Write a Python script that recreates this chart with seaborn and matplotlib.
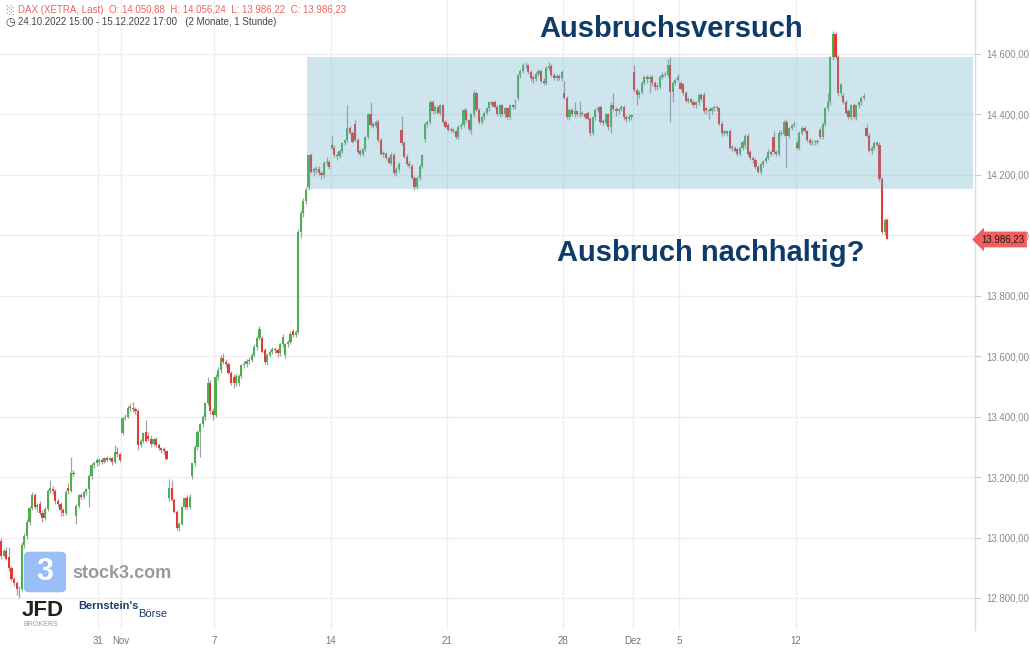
import matplotlib
matplotlib.use("Agg")
import matplotlib.pyplot as plt
from matplotlib.patches import Rectangle, FancyBboxPatch
import numpy as np
import pandas as pd
import seaborn as sns

# ---------------- data (DAX XETRA, 1h candles) ----------------
trading_days = pd.bdate_range("2022-10-24", "2022-12-15")
first_day_hours = [15, 16, 17]
day_hours = [9, 10, 11, 12, 13, 14, 15, 16, 17]

opens = [
    13020, 12990, 12940,
    12955, 12935, 12900, 12862, 12848, 12830, 12828, 12975, 13005,
    13052, 13098, 13140, 13100, 13112, 13082, 13065, 13095, 13155,
    13162, 13155, 13120, 13110, 13090, 13080, 13165, 13155, 13215,
    13070, 13105, 13140, 13135, 13150, 13160, 13205, 13240, 13245,
    13250, 13255, 13250, 13262, 13258, 13262, 13250, 13282, 13275,
    13345, 13395, 13400, 13430, 13428, 13425, 13420, 13305, 13320,
    13350, 13335, 13325, 13310, 13325, 13305, 13295, 13292, 13285,
    13130, 13165, 13125, 13085, 13030, 13045, 13100, 13130, 13100,
    13205, 13245, 13300, 13350, 13375, 13400, 13445, 13510, 13420,
    13405, 13530, 13555, 13595, 13580, 13575, 13545, 13530, 13510,
    13510, 13535, 13570, 13575, 13585, 13588, 13605, 13630, 13660,
    13660, 13620, 13580, 13605, 13615, 13625, 13620, 13610, 13640,
    13605, 13640, 13648, 13682, 13670, 13680, 14010, 14075, 14115,
    14160, 14265, 14210, 14218, 14218, 14205, 14200, 14240, 14242,
    14300, 14290, 14265, 14262, 14280, 14305, 14315, 14355, 14340,
    14370, 14315, 14278, 14270, 14285, 14325, 14400, 14368, 14362,
    14375, 14315, 14272, 14268, 14255, 14240, 14265, 14205, 14218,
    14350, 14305, 14260, 14235, 14228, 14190, 14160, 14190, 14230,
    14320, 14370, 14375, 14440, 14410, 14425, 14405, 14430, 14375,
    14365, 14352, 14348, 14345, 14325, 14360, 14365, 14415, 14380,
    14350, 14400, 14470, 14415, 14375, 14390, 14405, 14420, 14440,
    14440, 14425, 14400, 14430, 14400, 14420, 14390, 14430, 14425,
    14455, 14530, 14545, 14565, 14562, 14540, 14525, 14518, 14535,
    14545, 14512, 14505, 14555, 14560, 14530, 14520, 14528, 14520,
    14470, 14455, 14390, 14415, 14400, 14410, 14400, 14405, 14400,
    14405, 14385, 14340, 14390, 14415, 14425, 14378, 14372, 14400,
    14360, 14430, 14418, 14410, 14418, 14425, 14392, 14385, 14390,
    14540, 14480, 14465, 14475, 14505, 14525, 14518, 14525, 14505,
    14495, 14490, 14525, 14530, 14532, 14565, 14475, 14505, 14515,
    14505, 14500, 14470, 14445, 14450, 14440, 14430, 14440, 14465,
    14465, 14420, 14415, 14410, 14420, 14425, 14420, 14370, 14340,
    14335, 14345, 14292, 14288, 14285, 14270, 14290, 14300, 14330,
    14275, 14255, 14248, 14225, 14210, 14235, 14245, 14255, 14275,
    14325, 14275, 14270, 14340, 14335, 14375, 14330, 14355, 14365,
    14305, 14290, 14340, 14355, 14345, 14315, 14305, 14308, 14310,
    14350, 14325, 14370, 14420, 14440, 14590, 14665, 14590, 14470,
    14460, 14440, 14410, 14390, 14430, 14390, 14430, 14440, 14455,
    14355, 14330, 14280, 14290, 14305, 14300, 14185, 14010, 14050.88,
]
highs = [
    13035, 12998, 12962,
    12968, 12970, 12905, 12870, 12855, 12840, 12985, 13015, 13060,
    13105, 13150, 13148, 13115, 13120, 13090, 13100, 13162, 13190,
    13172, 13160, 13130, 13118, 13098, 13158, 13180, 13265, 13225,
    13110, 13145, 13148, 13155, 13165, 13210, 13245, 13252, 13262,
    13262, 13262, 13268, 13270, 13268, 13268, 13305, 13300, 13280,
    13400, 13410, 13440, 13445, 13450, 13432, 13425, 13325, 13350,
    13388, 13350, 13340, 13330, 13332, 13312, 13300, 13298, 13290,
    13195, 13190, 13132, 13090, 13050, 13105, 13135, 13140, 13145,
    13248, 13305, 13355, 13380, 13405, 13450, 13530, 13520, 13430,
    13540, 13565, 13605, 13610, 13590, 13582, 13552, 13540, 13540,
    13540, 13575, 13585, 13592, 13598, 13610, 13640, 13668, 13700,
    13668, 13628, 13610, 13620, 13630, 13632, 13626, 13645, 13672,
    13645, 13655, 13685, 13690, 13688, 14020, 14085, 14125, 14160,
    14270, 14272, 14225, 14230, 14228, 14212, 14245, 14260, 14250,
    14330, 14298, 14275, 14285, 14310, 14320, 14430, 14362, 14345,
    14380, 14322, 14285, 14290, 14330, 14405, 14440, 14375, 14382,
    14385, 14322, 14280, 14275, 14262, 14275, 14272, 14225, 14242,
    14395, 14312, 14268, 14245, 14235, 14195, 14195, 14235, 14270,
    14375, 14382, 14448, 14448, 14430, 14432, 14435, 14436, 14382,
    14372, 14360, 14355, 14350, 14365, 14372, 14420, 14422, 14385,
    14405, 14480, 14475, 14420, 14395, 14410, 14425, 14445, 14446,
    14448, 14432, 14435, 14436, 14425, 14426, 14435, 14436, 14450,
    14535, 14550, 14570, 14572, 14568, 14548, 14532, 14540, 14552,
    14550, 14520, 14560, 14575, 14566, 14538, 14535, 14534, 14548,
    14510, 14462, 14420, 14420, 14440, 14416, 14445, 14410, 14406,
    14410, 14392, 14395, 14420, 14428, 14432, 14385, 14405, 14405,
    14440, 14470, 14425, 14422, 14430, 14432, 14398, 14400, 14402,
    14565, 14488, 14480, 14510, 14530, 14532, 14530, 14530, 14512,
    14505, 14530, 14540, 14545, 14585, 14590, 14510, 14522, 14535,
    14512, 14505, 14478, 14458, 14456, 14448, 14445, 14470, 14470,
    14475, 14425, 14420, 14425, 14432, 14430, 14426, 14378, 14350,
    14350, 14352, 14300, 14295, 14290, 14295, 14315, 14335, 14340,
    14282, 14262, 14255, 14232, 14240, 14250, 14262, 14285, 14282,
    14345, 14282, 14350, 14348, 14382, 14385, 14360, 14370, 14378,
    14315, 14345, 14362, 14362, 14350, 14322, 14318, 14315, 14320,
    14360, 14375, 14425, 14470, 14595, 14675, 14672, 14598, 14505,
    14470, 14448, 14418, 14435, 14438, 14432, 14445, 14460, 14470,
    14370, 14338, 14295, 14312, 14312, 14308, 14192, 14056, 14056.24,
]
lows = [
    12985, 12930, 12935,
    12925, 12890, 12855, 12840, 12810, 12800, 12822, 12965, 12995,
    13040, 13090, 13095, 13085, 13075, 13050, 13058, 13088, 13148,
    13145, 13110, 13100, 13070, 13072, 13075, 13145, 13150, 13205,
    13045, 13098, 13128, 13128, 13140, 13100, 13195, 13230, 13238,
    13240, 13242, 13245, 13250, 13252, 13240, 13245, 13268, 13250,
    13340, 13388, 13395, 13420, 13415, 13410, 13290, 13298, 13312,
    13315, 13318, 13300, 13302, 13298, 13288, 13280, 13278, 13255,
    13120, 13120, 13080, 13025, 13020, 13040, 13095, 13095, 13095,
    13195, 13238, 13290, 13265, 13365, 13390, 13438, 13410, 13390,
    13398, 13520, 13545, 13575, 13565, 13540, 13505, 13495, 13502,
    13500, 13528, 13560, 13565, 13575, 13580, 13598, 13620, 13652,
    13610, 13575, 13572, 13598, 13608, 13612, 13598, 13602, 13632,
    13595, 13632, 13640, 13665, 13662, 13675, 13990, 14060, 14105,
    14150, 14205, 14195, 14205, 14198, 14185, 14190, 14230, 14218,
    14285, 14258, 14250, 14255, 14272, 14298, 14308, 14335, 14305,
    14310, 14270, 14262, 14262, 14278, 14318, 14360, 14355, 14355,
    14310, 14265, 14260, 14250, 14235, 14232, 14200, 14195, 14210,
    14300, 14255, 14230, 14222, 14185, 14150, 14152, 14182, 14222,
    14310, 14360, 14368, 14405, 14402, 14400, 14398, 14370, 14355,
    14345, 14342, 14338, 14320, 14318, 14352, 14358, 14375, 14345,
    14335, 14392, 14410, 14370, 14368, 14382, 14398, 14412, 14425,
    14420, 14395, 14390, 14395, 14392, 14380, 14385, 14418, 14418,
    14448, 14522, 14538, 14555, 14535, 14510, 14505, 14510, 14528,
    14505, 14498, 14498, 14548, 14525, 14515, 14512, 14514, 14512,
    14450, 14385, 14382, 14395, 14392, 14395, 14392, 14395, 14385,
    14380, 14330, 14332, 14382, 14408, 14370, 14365, 14365, 14350,
    14340, 14412, 14395, 14400, 14410, 14380, 14375, 14378, 14380,
    14475, 14430, 14455, 14468, 14498, 14505, 14470, 14495, 14480,
    14482, 14484, 14518, 14525, 14525, 14375, 14440, 14498, 14508,
    14480, 14465, 14440, 14438, 14435, 14425, 14420, 14432, 14445,
    14405, 14400, 14385, 14400, 14412, 14410, 14365, 14330, 14332,
    14328, 14285, 14280, 14275, 14262, 14262, 14282, 14290, 14262,
    14250, 14240, 14218, 14205, 14202, 14225, 14238, 14248, 14262,
    14270, 14262, 14262, 14328, 14328, 14225, 14322, 14348, 14358,
    14285, 14282, 14332, 14340, 14310, 14298, 14298, 14300, 14302,
    14320, 14318, 14362, 14412, 14432, 14580, 14585, 14462, 14462,
    14435, 14400, 14385, 14382, 14385, 14382, 14422, 14432, 14448,
    14325, 14275, 14270, 14282, 14295, 14180, 14005, 14000, 13986.22,
]
closes = [
    12990, 12940, 12955,
    12930, 12900, 12862, 12848, 12830, 12828, 12975, 13005, 13052,
    13098, 13140, 13102, 13108, 13082, 13065, 13095, 13155, 13165,
    13155, 13120, 13110, 13090, 13080, 13150, 13155, 13215, 13210,
    13105, 13140, 13135, 13150, 13160, 13205, 13240, 13245, 13255,
    13255, 13250, 13262, 13258, 13262, 13250, 13282, 13275, 13255,
    13395, 13400, 13430, 13428, 13425, 13420, 13305, 13320, 13345,
    13320, 13325, 13310, 13325, 13305, 13295, 13290, 13285, 13260,
    13165, 13125, 13085, 13030, 13045, 13100, 13130, 13100, 13135,
    13245, 13300, 13350, 13375, 13400, 13445, 13510, 13420, 13405,
    13530, 13555, 13595, 13580, 13575, 13545, 13510, 13510, 13535,
    13535, 13570, 13575, 13585, 13588, 13605, 13630, 13660, 13690,
    13615, 13580, 13605, 13615, 13625, 13620, 13610, 13640, 13665,
    13640, 13648, 13675, 13670, 13680, 14010, 14075, 14115, 14150,
    14265, 14210, 14218, 14215, 14205, 14200, 14240, 14242, 14225,
    14290, 14265, 14262, 14280, 14305, 14315, 14355, 14340, 14310,
    14315, 14275, 14270, 14285, 14325, 14400, 14365, 14362, 14375,
    14315, 14270, 14268, 14255, 14240, 14265, 14205, 14218, 14235,
    14305, 14260, 14235, 14228, 14190, 14160, 14190, 14230, 14265,
    14370, 14375, 14440, 14410, 14425, 14405, 14430, 14375, 14360,
    14350, 14348, 14345, 14325, 14360, 14365, 14415, 14380, 14352,
    14400, 14470, 14415, 14375, 14390, 14405, 14420, 14440, 14430,
    14425, 14400, 14430, 14400, 14420, 14390, 14430, 14425, 14428,
    14530, 14545, 14565, 14562, 14540, 14520, 14518, 14535, 14545,
    14510, 14505, 14555, 14560, 14530, 14520, 14528, 14520, 14540,
    14455, 14390, 14415, 14400, 14410, 14400, 14405, 14400, 14390,
    14385, 14340, 14390, 14415, 14420, 14375, 14372, 14400, 14358,
    14430, 14418, 14410, 14418, 14425, 14390, 14385, 14392, 14398,
    14480, 14465, 14475, 14505, 14525, 14518, 14525, 14505, 14490,
    14490, 14525, 14530, 14532, 14565, 14475, 14505, 14515, 14525,
    14485, 14470, 14445, 14450, 14440, 14430, 14440, 14465, 14450,
    14410, 14415, 14410, 14420, 14425, 14420, 14370, 14340, 14345,
    14345, 14290, 14288, 14280, 14270, 14290, 14310, 14330, 14270,
    14255, 14248, 14225, 14210, 14235, 14245, 14255, 14275, 14268,
    14275, 14270, 14340, 14335, 14375, 14330, 14355, 14365, 14370,
    14290, 14340, 14355, 14345, 14315, 14305, 14310, 14310, 14312,
    14325, 14370, 14420, 14440, 14590, 14665, 14590, 14470, 14500,
    14440, 14405, 14390, 14430, 14390, 14430, 14440, 14455, 14462,
    14330, 14280, 14290, 14305, 14300, 14185, 14010, 14050, 13986.23,
]

y_ticks = [12800, 13000, 13200, 13400, 13600, 13800, 14000, 14200, 14400, 14600]
x_tick_dates = ["2022-10-31", "2022-11-01", "2022-11-07", "2022-11-14", "2022-11-21",
                "2022-11-28", "2022-12-01", "2022-12-05", "2022-12-12"]
x_tick_labels = ["31", "Nov", "7", "14", "21", "28", "Dez", "5", "12"]

zone_start_date = "2022-11-11"
zone_low, zone_high = 14153, 14590
last_price = 13986.23

header1 = "DAX (XETRA, Last)  O: 14.050,88  H: 14.056,24  L: 13.986,22  C: 13.986,23"
header2 = "24.10.2022 15:00 - 15.12.2022 17:00   (2 Monate, 1 Stunde)"
title_top = "Ausbruchsversuch"
title_bottom = "Ausbruch nachhaltig?"

# ---------------- build frame ----------------
rows = []
for di, d in enumerate(trading_days):
    hrs = first_day_hours if di == 0 else day_hours
    for h in hrs:
        rows.append((di, h))
df = pd.DataFrame(rows, columns=["day", "hour"])
df["open"], df["high"], df["low"], df["close"] = opens, highs, lows, closes
df["x"] = df["day"] + (df["hour"] - 9 + 0.5) / 9.0
df["up"] = df["close"] >= df["open"]

def de_fmt(v):
    s = f"{v:,.2f}"
    return s.replace(",", "X").replace(".", ",").replace("X", ".")

# ---------------- style ----------------
sns.set_theme(style="white")
plt.rcParams["font.family"] = ["Liberation Sans", "DejaVu Sans"]

W, H = 1030, 648
fig = plt.figure(figsize=(W / 100, H / 100), dpi=100)
ax_left, ax_right, ax_bottom = 0, 975, 630
ax = fig.add_axes([ax_left / W, (H - ax_bottom) / H, (ax_right - ax_left) / W, ax_bottom / H])

px_per_day = 23.25
day0_px = -18.25
ax.set_xlim((0 - day0_px) / px_per_day, (975 - day0_px) / px_per_day)
pts_per_px = 200 / 60.44
ax.set_ylim(14600 - (630 - 54) * pts_per_px, 14600 + 54 * pts_per_px)

day_strings = list(trading_days.strftime("%Y-%m-%d"))
tick_pos = [day_strings.index(t) for t in x_tick_dates]

# grid
for yv in y_ticks:
    ax.axhline(yv, color="#efefef", lw=1, zorder=0)
for xv in tick_pos:
    ax.axvline(xv, color="#efefef", lw=1, zorder=0)

green, red = "#4caf50", "#e53935"
slot = 1 / 9.0
# wicks
ax.vlines(df["x"], df["low"], df["high"], color="#a3a3a3", lw=0.9, zorder=1)
# bodies
body_bottom = np.minimum(df["open"], df["close"])
body_h = np.maximum(np.abs(df["close"] - df["open"]), 2.5)
ax.bar(df["x"], body_h, bottom=body_bottom, width=slot * 0.86,
       color=np.where(df["up"], green, red), linewidth=0, zorder=2)

# consolidation zone
zx0 = day_strings.index(zone_start_date)
zx1 = (973 - day0_px) / px_per_day
ax.add_patch(Rectangle((zx0, zone_low), zx1 - zx0, zone_high - zone_low,
                       facecolor="#62acc6", alpha=0.3, edgecolor="none", zorder=3))

# axes styling
for s in ["top", "left", "bottom"]:
    ax.spines[s].set_visible(False)
ax.spines["right"].set_color("#dddddd")
ax.spines["right"].set_linewidth(1)
ax.yaxis.tick_right()
ax.set_yticks(y_ticks)
ax.set_yticklabels([de_fmt(v) for v in y_ticks])
ax.tick_params(axis="y", which="both", right=True, length=4, width=0.8, color="#cccccc",
               labelsize=7, labelcolor="#8a8a8a", pad=4)
ax.set_xticks(tick_pos)
ax.set_xticklabels(x_tick_labels)
ax.tick_params(axis="x", length=0, labelsize=7, labelcolor="#777777", pad=4)
ax.set_facecolor("white")

# last price tag
ax.text(1.006, last_price, de_fmt(last_price), transform=ax.get_yaxis_transform(),
        ha="left", va="center", fontsize=7, color="#1a1a1a", zorder=10, clip_on=False,
        bbox=dict(boxstyle="larrow,pad=0.3", fc="#f06060", ec="none"))

# annotations
navy = "#0f3b68"
fig.text(671 / W, 1 - 29 / H, title_top, ha="center", va="center", fontsize=21,
         fontweight="bold", color=navy)
fig.text(711 / W, 1 - 253 / H, title_bottom, ha="center", va="center", fontsize=21,
         fontweight="bold", color=navy)

# header
fig.text(6 / W, 1 - 10 / H, "\u2591", ha="left", va="center", fontsize=7, color="#f06262",
         family="DejaVu Sans")
fig.text(18 / W, 1 - 10 / H, header1, ha="left", va="center", fontsize=7, color="#f06262")
fig.text(5 / W, 1 - 22 / H, "\u25F7", ha="left", va="center", fontsize=8, color="#444444",
         family="DejaVu Sans")
fig.text(18 / W, 1 - 22 / H, header2, ha="left", va="center", fontsize=7, color="#444444")

# watermark logos
fig.patches.append(FancyBboxPatch((26 / W, 1 - 591 / H), 38 / W, 38 / H,
                                  boxstyle="round,pad=0.002,rounding_size=0.006",
                                  transform=fig.transFigure, fc="#8fb8f5", ec="none", alpha=0.9))
fig.text(45 / W, 1 - 572 / H, "3", ha="center", va="center", fontsize=22,
         fontweight="bold", color="white")
fig.text(72 / W, 1 - 573 / H, "stock3.com", ha="left", va="center", fontsize=13,
         fontweight="bold", color="#9a9a9a")
fig.text(22 / W, 1 - 610 / H, "JFD", ha="left", va="center", fontsize=16,
         fontweight="bold", color="#222222")
fig.text(23 / W, 1 - 625 / H, "BROKERS", ha="left", va="center", fontsize=5,
         color="#999999")
fig.text(78 / W, 1 - 606 / H, "Bernstein's", ha="left", va="center", fontsize=8,
         fontweight="bold", color="#1d3c6b")
fig.text(138 / W, 1 - 614 / H, "B\u00f6rse", ha="left", va="center", fontsize=8,
         color="#1d3c6b")

fig.savefig("out.png", dpi=100)
